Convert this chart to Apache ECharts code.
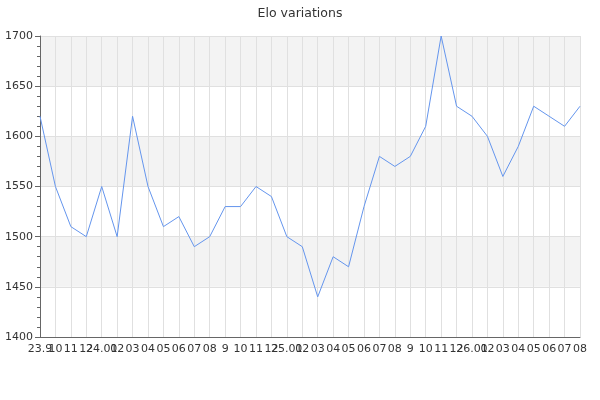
<!DOCTYPE html>
<html>
<head>
<meta charset="utf-8">
<script src="https://cdn.jsdelivr.net/npm/echarts@6/dist/echarts.min.js"></script>
<style>
  html, body { margin: 0; padding: 0; background: #fff; }
  #chart { width: 600px; height: 400px; }
</style>
</head>
<body>
<div id="chart"></div>
<script>
// month labels, one per rating snapshot
const months = [
  "23.9", "10", "11", "12",
  "24.01", "02", "03", "04", "05", "06", "07", "08", "9", "10", "11", "12",
  "25.01", "02", "03", "04", "05", "06", "07", "08", "9", "10", "11", "12",
  "26.01", "02", "03", "04", "05", "06", "07", "08"
];
const elo = [
  1620, 1550, 1510, 1500,
  1550, 1500, 1620, 1550, 1510, 1520, 1490, 1500, 1530, 1530, 1550, 1540,
  1500, 1490, 1440, 1480, 1470, 1530, 1580, 1570, 1580, 1610, 1700, 1630,
  1620, 1600, 1560, 1590, 1630, 1620, 1610, 1630
];
const yTicks = [1400, 1450, 1500, 1550, 1600, 1650, 1700];

const chart = echarts.init(document.getElementById("chart"));
chart.setOption({
  animation: false,
  title: {
    text: "Elo variations",
    left: "center",
    top: 2,
    textStyle: { fontSize: 12.5, fontWeight: "normal", color: "#333", fontFamily: "DejaVu Sans" }
  },
  grid: { left: 40, right: 20, top: 36, bottom: 63 },
  xAxis: {
    type: "category",
    data: months,
    boundaryGap: false,
    axisLine: { lineStyle: { color: "#666" } },
    axisTick: { show: false },
    axisLabel: { interval: 0, color: "#333", fontSize: 11, fontFamily: "DejaVu Sans", margin: 7 },
    splitLine: { show: true, lineStyle: { color: "#e0e0e0" } }
  },
  yAxis: {
    type: "value",
    min: yTicks[0],
    max: yTicks[yTicks.length - 1],
    interval: 50,
    axisLine: { show: true, lineStyle: { color: "#666" } },
    axisTick: { show: true, length: 5 },
    minorTick: { show: true, splitNumber: 5, length: 3, lineStyle: { color: "#666" } },
    axisLabel: { color: "#333", fontSize: 11, fontFamily: "DejaVu Sans", margin: 7, formatter: v => String(v) },
    splitLine: { show: true, lineStyle: { color: "#e0e0e0" } },
    splitArea: { show: true, areaStyle: { color: ["#ffffff", "#f3f3f3"] } }
  },
  series: [{
    type: "line",
    data: elo,
    showSymbol: false,
    lineStyle: { color: "#6495ed", width: 1 }
  }]
});
</script>
</body>
</html>
